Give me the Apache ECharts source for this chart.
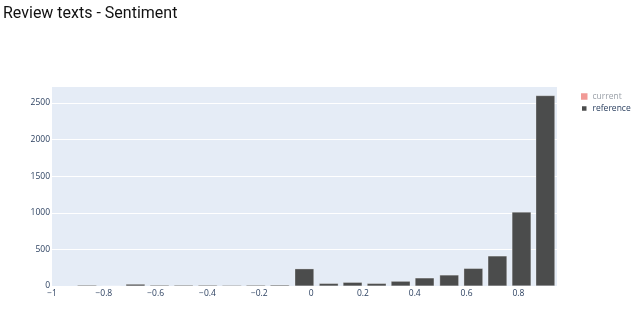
<!DOCTYPE html>
<html>
<head>
<meta charset="utf-8">
<script src="https://cdn.jsdelivr.net/npm/echarts@6/dist/echarts.min.js"></script>
<style>html,body{margin:0;padding:0;background:#fff}#c{width:640px;height:322px}</style>
</head>
<body>
<div id="c"></div>
<script>
// Bin centers (sentiment score)
const binCenters = [-0.865, -0.772, -0.678, -0.585, -0.492, -0.399, -0.306, -0.2135, -0.121, -0.026,
                    0.068, 0.160, 0.253, 0.3455, 0.438, 0.533, 0.626, 0.719, 0.812, 0.904];
// Reference counts per bin
const referenceCounts = [12, 0, 25, 12, 12, 12, 10, 12, 14, 235,
                         35, 50, 35, 65, 110, 150, 240, 410, 1010, 2600];
// Current series is hidden in the reference (legend only)
const currentCounts = [];
const xTicks = [-1, -0.8, -0.6, -0.4, -0.2, 0, 0.2, 0.4, 0.6, 0.8];
const yTicks = [0, 500, 1000, 1500, 2000, 2500];
const titleText = 'Review texts - Sentiment';

const chart = echarts.init(document.getElementById('c'), null, {renderer: 'canvas'});
const tickFont = '"Open Sans", "DejaVu Sans", sans-serif';
const fmtX = v => {
  const r = Math.round(v * 10) / 10;
  return String(r).replace('-', '\u2212');
};
const fmtY = v => String(Math.round(v));
chart.setOption({
  animation: false,
  backgroundColor: '#fff',
  title: {
    text: titleText, left: 3, top: 6, padding: 0,
    textStyle: {fontFamily: 'Roboto, "Liberation Sans", Arial, sans-serif', fontSize: 16, fontWeight: 'normal', color: '#111'}
  },
  legend: {
    orient: 'vertical', left: 575, top: 87, itemWidth: 6.5, itemHeight: 6.5, itemGap: 3,
    icon: 'rect',
    textStyle: {fontFamily: tickFont, fontSize: 8.5, color: '#2a3f5f'},
    data: [
      {name: 'current', itemStyle: {color: '#f19a96'}, textStyle: {color: '#9aa0a8'}},
      {name: 'reference'}
    ]
  },
  grid: {left: 52, right: 83, top: 86, bottom: 36, show: true, backgroundColor: '#e5ecf6', borderWidth: 0, containLabel: false},
  xAxis: {
    type: 'value', min: xTicks[0], max: 0.949, interval: 0.2,
    axisLine: {show: false}, axisTick: {show: false}, splitLine: {show: false},
    axisLabel: {fontFamily: tickFont, fontSize: 8.5, color: '#2a3f5f', margin: 3, showMaxLabel: false, formatter: fmtX}
  },
  yAxis: {
    type: 'value', min: yTicks[0], max: 2731, interval: yTicks[1] - yTicks[0],
    axisLine: {show: false}, axisTick: {show: false},
    splitLine: {show: true, lineStyle: {color: '#ffffff', width: 1}},
    axisLabel: {fontFamily: tickFont, fontSize: 8.5, color: '#2a3f5f', margin: 2, showMaxLabel: false, formatter: fmtY}
  },
  series: [
    {
      name: 'current', type: 'bar', barWidth: 19, itemStyle: {color: '#ed0400'},
      data: currentCounts.map((v, i) => [binCenters[i], v])
    },
    {
      name: 'reference', type: 'bar', barWidth: 19, barGap: '-100%',
      itemStyle: {color: '#4b4c4c', borderColor: '#ffffff', borderWidth: 0.3},
      data: binCenters.map((c, i) => [c, referenceCounts[i]])
    }
  ]
});
</script>
</body>
</html>
